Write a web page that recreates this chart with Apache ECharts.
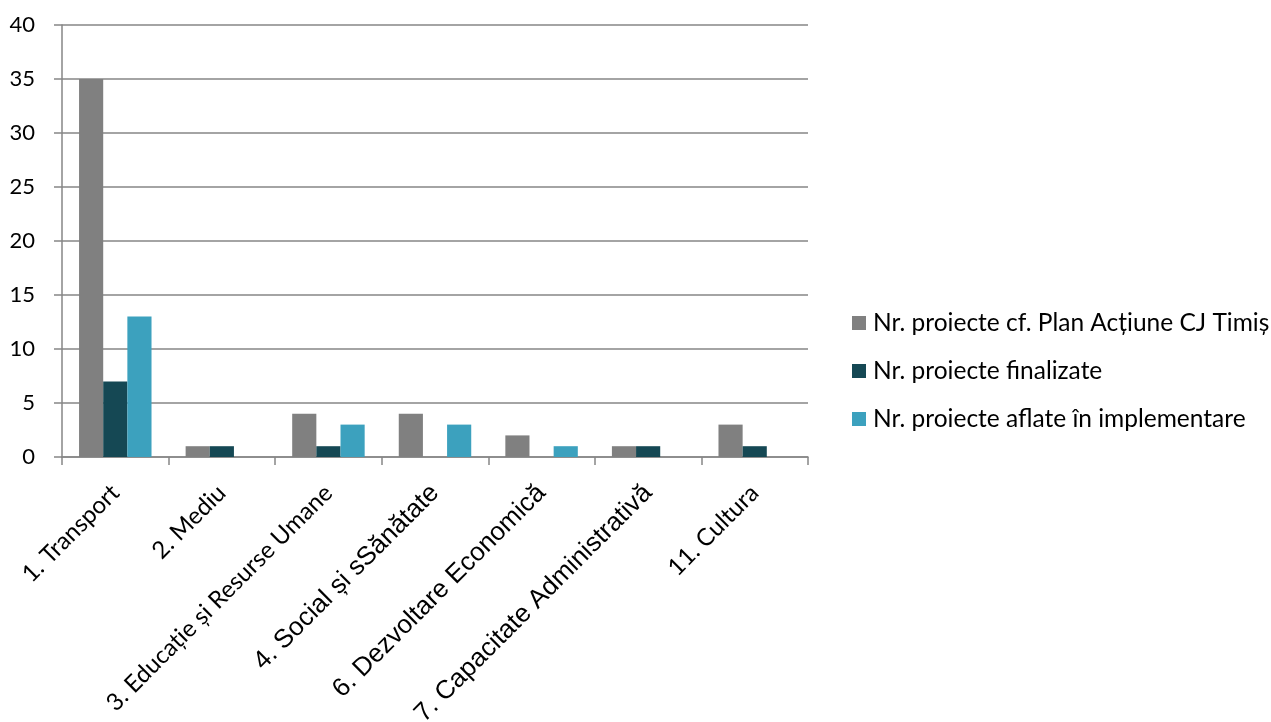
<!DOCTYPE html>
<html><head><meta charset="utf-8">
<script src="https://cdn.jsdelivr.net/npm/echarts@6/dist/echarts.min.js"></script>
<style>html,body{margin:0;padding:0;background:#fff}#c{width:1271px;height:722px}</style>
</head><body><div id="c"></div>
<script>
const categories = ["1. Transport","2. Mediu","3. Educație și Resurse Umane","4. Social și sSănătate","6. Dezvoltare Economică","7. Capacitate Administrativă","11. Cultura"];
const seriesNames = ["Nr. proiecte cf. Plan Acțiune CJ Timiș","Nr. proiecte finalizate","Nr. proiecte aflate în implementare"];
const planValues = [35,1,4,4,2,1,3];
const finalizateValues = [7,1,1,0,0,1,1];
const implementareValues = [13,0,3,3,1,0,0];
const yTicks = [0,5,10,15,20,25,30,35,40];
const colors = ["#808080","#154854","#3ca1be"];
// labels 4, 6, 7 are set in an Arial-like face in the original, the others in a Calibri-like face
const arialLabels = ["4. Social și sSănătate","6. Dezvoltare Economică","7. Capacitate Administrativă"];

const catData = categories.map(c => arialLabels.includes(c)
  ? {value:c, textStyle:{fontFamily:'Liberation Sans', fontSize:26}}
  : {value:c, textStyle:{fontFamily:'Lato', fontSize:24}});

const chart = echarts.init(document.getElementById('c'), null, {renderer:'canvas'});
const mk = (name, data, color) => ({name, type:'bar', data, barGap:'0%', barCategoryGap:'32%', itemStyle:{color}});
chart.setOption({
  animation:false,
  textStyle:{fontFamily:'Lato'},
  grid:{left:62,right:463,top:25,bottom:265,containLabel:false,outerBoundsMode:'none'},
  legend:{orient:'vertical',left:852,top:309,padding:0,itemGap:20,itemWidth:14,itemHeight:14,icon:'rect',
    textStyle:{fontSize:24.5,color:'#000',fontFamily:'Lato',padding:[0,0,0,2],lineHeight:28},
    data:seriesNames},
  xAxis:{type:'category',data:catData,
    axisLine:{lineStyle:{color:'#868686',width:1.5}},
    axisTick:{show:true,length:8,lineStyle:{color:'#868686',width:1.5}},
    axisLabel:{rotate:45,color:'#000',margin:32,interval:0}},
  yAxis:{type:'value',min:yTicks[0],max:yTicks[yTicks.length-1],interval:yTicks[1]-yTicks[0],
    axisLine:{show:true,lineStyle:{color:'#868686',width:1.5}},
    axisTick:{show:true,length:8,lineStyle:{color:'#868686',width:1.5}},
    splitLine:{lineStyle:{color:'#868686',width:1.5}},
    axisLabel:{fontSize:22,color:'#000',fontFamily:'Lato',margin:27}},
  series:[mk(seriesNames[0],planValues,colors[0]),mk(seriesNames[1],finalizateValues,colors[1]),mk(seriesNames[2],implementareValues,colors[2])]
});
</script></body></html>
